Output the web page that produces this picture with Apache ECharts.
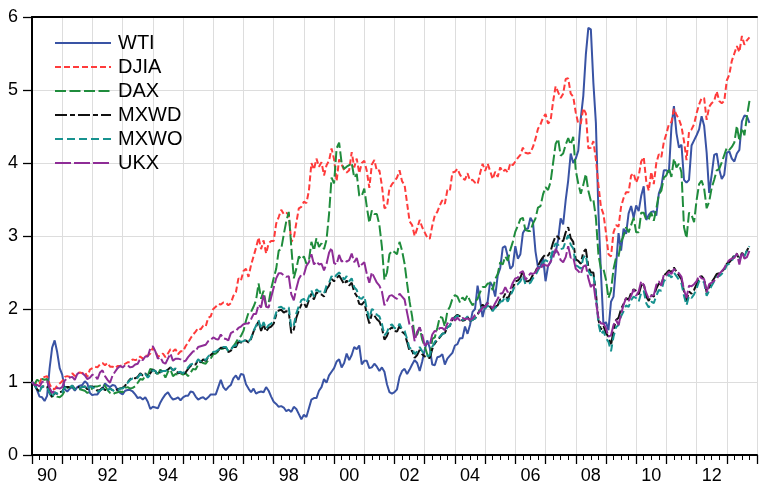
<!DOCTYPE html>
<html>
<head>
<meta charset="utf-8">
<script src="https://cdn.jsdelivr.net/npm/echarts@6/dist/echarts.min.js"></script>
<style>
html,body{margin:0;padding:0;background:#fff;}
#chart{width:760px;height:494px;}
</style>
</head>
<body>
<div id="chart"></div>
<script>
// Monthly observations, Jan 1990 .. Oct 2013 (index normalised to 1 at Jan 1990)
const startYear = 1990;
const seriesNames = ['WTI', 'DJIA', 'DAX', 'MXWD', 'MXWO', 'UKX'];
const yTicks = [0, 1, 2, 3, 4, 5, 6];
const xTickYears = [1990, 1992, 1994, 1996, 1998, 2000, 2002, 2004, 2006, 2008, 2010, 2012];
const xTickLabels = ['90', '92', '94', '96', '98', '00', '02', '04', '06', '08', '10', '12'];

const WTI = [
1.00,0.97,0.89,0.80,0.79,0.74,0.81,1.19,1.47,1.57,1.41,1.19,
1.10,0.90,0.87,0.91,0.93,0.88,0.93,0.95,0.96,1.01,0.98,0.85,
0.82,0.83,0.83,0.88,0.91,0.98,0.95,0.93,0.96,0.95,0.89,0.85,
0.83,0.88,0.89,0.89,0.87,0.83,0.78,0.79,0.76,0.79,0.73,0.63,
0.66,0.65,0.64,0.72,0.78,0.83,0.86,0.80,0.76,0.77,0.79,0.75,
0.79,0.81,0.81,0.87,0.86,0.80,0.76,0.78,0.79,0.76,0.79,0.83,
0.83,0.83,0.93,1.03,0.93,0.89,0.93,0.96,1.05,1.09,1.03,1.11,
1.10,0.97,0.91,0.86,0.91,0.84,0.86,0.87,0.86,0.93,0.88,0.80,
0.73,0.70,0.66,0.67,0.65,0.60,0.62,0.59,0.66,0.63,0.56,0.49,
0.55,0.52,0.64,0.76,0.78,0.78,0.88,0.93,1.04,0.99,1.09,1.14,
1.19,1.28,1.31,1.20,1.26,1.39,1.30,1.37,1.48,1.45,1.50,1.24,
1.29,1.29,1.19,1.20,1.25,1.21,1.15,1.20,1.14,0.97,0.86,0.84,
0.86,0.90,1.07,1.15,1.18,1.11,1.17,1.24,1.30,1.26,1.15,1.28,
1.44,1.57,1.47,1.24,1.23,1.34,1.35,1.38,1.24,1.32,1.36,1.40,
1.50,1.52,1.60,1.60,1.76,1.66,1.78,1.96,2.00,2.32,2.12,1.89,
2.04,2.10,2.37,2.31,2.17,2.46,2.56,2.84,2.86,2.72,2.55,2.59,
2.86,2.69,2.75,3.04,3.10,3.10,3.25,3.19,2.79,2.57,2.58,2.71,
2.38,2.59,2.64,2.79,2.77,2.95,3.24,3.16,3.49,3.76,4.13,4.00,
4.06,4.17,4.61,4.92,5.48,5.85,5.83,5.10,4.55,3.34,2.50,1.79,
1.82,1.71,2.10,2.17,2.59,3.04,2.80,3.10,3.03,3.31,3.41,3.25,
3.42,3.34,3.55,3.68,3.22,3.29,3.33,3.34,3.28,3.58,3.68,3.90,
3.90,3.87,4.49,4.78,4.41,4.21,4.25,3.77,3.73,3.77,4.24,4.31,
4.38,4.46,4.64,4.51,4.14,3.59,3.84,4.11,4.13,3.91,3.78,3.84,
4.14,4.16,4.06,4.02,4.13,4.18,4.57,4.65,4.64,4.55
];

const DJIA = [
1.00,0.97,1.00,0.98,1.07,1.07,1.08,0.97,0.91,0.90,0.95,0.98,
1.01,1.07,1.08,1.07,1.12,1.08,1.12,1.13,1.12,1.14,1.07,1.17,
1.19,1.21,1.20,1.24,1.26,1.23,1.26,1.21,1.21,1.19,1.22,1.22,
1.23,1.25,1.27,1.27,1.31,1.30,1.31,1.35,1.32,1.36,1.36,1.39,
1.47,1.42,1.35,1.36,1.39,1.34,1.39,1.45,1.42,1.45,1.38,1.42,
1.42,1.49,1.54,1.60,1.65,1.69,1.74,1.72,1.77,1.76,1.88,1.90,
2.00,2.03,2.07,2.06,2.09,2.09,2.05,2.08,2.18,2.23,2.42,2.39,
2.52,2.55,2.44,2.60,2.72,2.84,2.98,2.82,2.94,2.76,2.90,2.93,
2.93,3.17,3.26,3.36,3.30,3.32,3.29,2.92,2.97,3.18,3.38,3.40,
3.47,3.45,3.62,4.00,3.91,4.06,3.95,4.01,3.83,3.97,4.03,4.20,
4.05,3.75,4.05,3.98,3.90,3.87,3.90,4.15,3.94,4.06,3.86,4.00,
4.03,3.89,3.66,3.98,4.04,3.89,3.90,3.69,3.38,3.40,3.65,3.71,
3.75,3.80,3.90,3.75,3.70,3.45,3.20,3.15,3.00,3.10,3.22,3.12,
3.05,2.98,2.96,3.14,3.28,3.33,3.42,3.49,3.44,3.63,3.62,3.87,
3.88,3.92,3.84,3.79,3.77,3.86,3.76,3.77,3.73,3.71,3.86,3.99,
3.89,3.99,3.89,3.78,3.88,3.81,3.94,3.88,3.91,3.87,4.00,3.97,
4.02,4.07,4.11,4.21,4.14,4.13,4.14,4.22,4.33,4.47,4.53,4.62,
4.67,4.54,4.58,4.84,5.05,4.97,4.89,4.95,5.15,5.16,4.95,4.91,
4.69,4.54,4.54,4.75,4.68,4.20,4.21,4.30,4.05,3.70,3.40,3.30,
3.05,2.75,2.72,3.05,3.15,3.13,3.40,3.52,3.60,3.60,3.83,3.86,
3.73,3.82,4.02,4.08,3.75,3.62,3.88,3.71,4.00,4.12,4.08,4.29,
4.40,4.53,4.56,4.74,4.66,4.60,4.50,4.30,4.04,4.43,4.46,4.53,
4.68,4.80,4.89,4.89,4.59,4.77,4.82,4.85,4.98,4.85,4.82,4.85,
5.13,5.21,5.40,5.50,5.60,5.52,5.74,5.62,5.68,5.72
];

const DAX = [
1.00,0.97,1.03,1.01,1.04,1.03,1.04,0.88,0.80,0.82,0.80,0.79,
0.82,0.88,0.92,0.93,0.94,0.90,0.91,0.90,0.89,0.88,0.85,0.87,
0.92,0.94,0.94,0.95,0.97,0.95,0.89,0.85,0.83,0.85,0.86,0.87,
0.86,0.92,0.93,0.91,0.92,0.94,0.99,1.04,1.03,1.09,1.09,1.18,
1.17,1.13,1.11,1.17,1.13,1.06,1.14,1.17,1.08,1.11,1.10,1.12,
1.10,1.12,1.08,1.13,1.18,1.17,1.24,1.28,1.26,1.25,1.30,1.32,
1.38,1.39,1.42,1.45,1.46,1.48,1.42,1.45,1.49,1.54,1.60,1.63,
1.70,1.84,1.95,1.96,2.03,2.12,2.35,2.14,2.25,2.05,2.08,2.28,
2.42,2.55,2.80,2.82,3.02,3.20,3.33,2.85,2.42,2.55,2.72,2.68,
2.72,2.62,2.66,2.92,2.80,2.97,2.85,2.90,2.82,2.95,3.30,3.80,
3.72,4.20,4.28,4.00,3.92,3.95,3.97,4.00,3.80,3.85,3.55,3.55,
3.65,3.40,3.18,3.35,3.30,3.30,3.15,2.85,2.40,2.50,2.75,2.80,
2.78,2.75,2.92,2.80,2.62,2.35,2.10,1.90,1.62,1.65,1.75,1.58,
1.49,1.38,1.31,1.59,1.61,1.74,1.89,1.88,1.76,1.97,2.03,2.14,
2.19,2.17,2.09,2.16,2.12,2.19,2.11,2.05,2.10,2.14,2.23,2.30,
2.30,2.35,2.35,2.26,2.41,2.48,2.64,2.61,2.72,2.66,2.81,2.92,
3.06,3.14,3.23,3.25,3.08,3.07,3.07,3.17,3.24,3.39,3.41,3.57,
3.67,3.63,3.74,4.00,4.26,4.33,4.10,4.13,4.25,4.34,4.25,4.36,
3.90,3.72,3.58,3.70,3.85,3.62,3.48,3.50,3.25,2.75,2.55,2.55,
2.40,2.15,2.25,2.55,2.70,2.72,2.92,3.00,3.12,3.05,3.15,3.25,
3.05,3.05,3.32,3.32,3.22,3.23,3.32,3.21,3.37,3.57,3.62,3.80,
3.83,3.93,3.81,4.06,3.94,3.99,3.87,3.12,2.97,3.32,3.29,3.19,
3.49,3.71,3.76,3.65,3.38,3.47,3.66,3.77,3.90,3.92,4.01,4.11,
4.21,4.18,4.22,4.28,4.51,4.30,4.48,4.38,4.64,4.85
];

const MXWD = [
1.00,0.96,0.90,0.87,0.94,0.94,0.94,0.85,0.79,0.85,0.84,0.86,
0.87,0.93,0.93,0.93,0.95,0.91,0.94,0.92,0.93,0.94,0.90,0.94,
0.94,0.92,0.88,0.89,0.92,0.89,0.89,0.91,0.89,0.88,0.90,0.91,
0.92,0.95,1.00,1.04,1.06,1.05,1.07,1.12,1.09,1.12,1.07,1.12,
1.17,1.15,1.10,1.14,1.15,1.15,1.17,1.20,1.16,1.18,1.12,1.13,
1.11,1.13,1.18,1.22,1.24,1.24,1.30,1.27,1.31,1.29,1.34,1.37,
1.40,1.41,1.43,1.47,1.47,1.47,1.41,1.43,1.48,1.48,1.55,1.54,
1.56,1.57,1.54,1.59,1.69,1.76,1.83,1.70,1.79,1.69,1.74,1.76,
1.80,1.92,1.98,1.99,1.95,1.97,1.96,1.67,1.72,1.88,1.98,2.06,
2.08,2.02,2.12,2.21,2.13,2.23,2.20,2.20,2.17,2.27,2.32,2.41,
2.38,2.42,2.46,2.40,2.34,2.39,2.32,2.36,2.23,2.18,2.07,2.06,
2.10,1.93,1.80,1.93,1.91,1.86,1.83,1.74,1.58,1.63,1.72,1.75,
1.70,1.69,1.77,1.69,1.66,1.55,1.42,1.43,1.33,1.37,1.44,1.38,
1.35,1.33,1.33,1.45,1.53,1.57,1.61,1.66,1.67,1.75,1.77,1.86,
1.89,1.92,1.90,1.84,1.85,1.89,1.84,1.85,1.87,1.92,2.00,2.06,
2.02,2.08,2.03,1.98,2.03,2.05,2.13,2.14,2.21,2.13,2.22,2.29,
2.38,2.39,2.43,2.52,2.38,2.38,2.40,2.47,2.51,2.59,2.66,2.71,
2.75,2.73,2.79,2.91,3.00,2.99,2.93,2.93,3.05,3.12,2.97,2.92,
2.68,2.66,2.62,2.78,2.82,2.58,2.50,2.50,2.22,1.85,1.72,1.77,
1.67,1.62,1.50,1.71,1.85,1.88,2.00,2.07,2.15,2.13,2.22,2.27,
2.25,2.20,2.32,2.35,2.17,2.11,2.19,2.17,2.28,2.35,2.33,2.46,
2.49,2.53,2.50,2.57,2.51,2.46,2.41,2.24,2.11,2.24,2.21,2.26,
2.34,2.43,2.45,2.41,2.23,2.30,2.37,2.42,2.48,2.49,2.51,2.55,
2.62,2.64,2.68,2.74,2.76,2.67,2.77,2.73,2.80,2.86
];

const MXWO = [
1.00,0.96,0.90,0.87,0.94,0.94,0.93,0.85,0.79,0.86,0.84,0.86,
0.86,0.93,0.92,0.93,0.95,0.90,0.93,0.92,0.93,0.94,0.89,0.94,
0.93,0.91,0.87,0.88,0.91,0.88,0.89,0.91,0.89,0.87,0.89,0.91,
0.91,0.94,0.99,1.03,1.05,1.04,1.06,1.11,1.08,1.11,1.06,1.10,
1.16,1.15,1.10,1.14,1.15,1.15,1.17,1.20,1.16,1.19,1.13,1.14,
1.12,1.15,1.20,1.24,1.25,1.25,1.31,1.28,1.32,1.30,1.35,1.38,
1.41,1.42,1.44,1.48,1.48,1.48,1.42,1.44,1.49,1.50,1.57,1.55,
1.56,1.58,1.55,1.60,1.70,1.77,1.85,1.73,1.82,1.73,1.78,1.80,
1.84,1.95,2.02,2.03,2.00,2.03,2.02,1.74,1.78,1.94,2.04,2.12,
2.14,2.08,2.17,2.25,2.17,2.27,2.24,2.24,2.21,2.32,2.36,2.45,
2.42,2.47,2.50,2.46,2.40,2.45,2.38,2.42,2.30,2.26,2.15,2.14,
2.18,2.00,1.87,2.00,1.98,1.92,1.90,1.80,1.64,1.68,1.77,1.79,
1.74,1.73,1.80,1.72,1.70,1.59,1.46,1.47,1.38,1.42,1.48,1.42,
1.38,1.36,1.36,1.48,1.55,1.58,1.62,1.66,1.67,1.75,1.77,1.86,
1.88,1.91,1.89,1.85,1.86,1.90,1.84,1.85,1.87,1.92,1.99,2.05,
2.00,2.05,2.01,1.97,2.02,2.03,2.10,2.11,2.17,2.10,2.18,2.25,
2.33,2.34,2.38,2.46,2.34,2.34,2.36,2.42,2.46,2.53,2.59,2.64,
2.67,2.65,2.70,2.82,2.90,2.88,2.82,2.83,2.93,3.01,2.88,2.83,
2.60,2.58,2.55,2.70,2.74,2.52,2.46,2.48,2.20,1.80,1.65,1.70,
1.60,1.55,1.42,1.62,1.75,1.78,1.90,1.97,2.05,2.03,2.12,2.17,
2.15,2.10,2.22,2.25,2.08,2.02,2.10,2.08,2.18,2.26,2.25,2.38,
2.42,2.47,2.43,2.50,2.45,2.40,2.35,2.18,2.05,2.18,2.15,2.20,
2.28,2.38,2.40,2.36,2.18,2.25,2.32,2.38,2.44,2.45,2.48,2.52,
2.60,2.62,2.66,2.72,2.74,2.66,2.76,2.72,2.80,2.86
];

const UKX = [
1.00,0.96,0.96,0.94,1.00,1.01,1.01,0.92,0.85,0.88,0.92,0.91,
0.93,1.02,1.05,1.06,1.07,1.03,1.11,1.13,1.12,1.09,1.04,1.06,
1.10,1.09,1.04,1.13,1.16,1.08,1.03,0.99,1.09,1.14,1.19,1.22,
1.20,1.23,1.23,1.20,1.21,1.24,1.25,1.32,1.30,1.35,1.35,1.46,
1.49,1.42,1.32,1.34,1.27,1.25,1.32,1.39,1.29,1.32,1.32,1.31,
1.28,1.29,1.34,1.38,1.42,1.42,1.48,1.49,1.50,1.51,1.56,1.58,
1.61,1.59,1.58,1.65,1.60,1.59,1.57,1.67,1.69,1.70,1.74,1.76,
1.79,1.80,1.80,1.86,1.93,1.93,2.06,2.02,2.20,2.03,2.02,2.16,
2.29,2.42,2.49,2.49,2.46,2.44,2.45,2.20,2.12,2.28,2.41,2.47,
2.47,2.59,2.64,2.75,2.61,2.65,2.61,2.62,2.53,2.62,2.77,2.84,
2.63,2.61,2.74,2.65,2.67,2.65,2.67,2.76,2.64,2.70,2.57,2.61,
2.64,2.48,2.36,2.50,2.43,2.36,2.32,2.24,2.05,2.11,2.18,2.19,
2.16,2.14,2.21,2.17,2.13,1.95,1.78,1.77,1.56,1.69,1.75,1.65,
1.50,1.53,1.51,1.65,1.70,1.69,1.74,1.74,1.71,1.80,1.82,1.88,
1.84,1.88,1.84,1.88,1.86,1.87,1.85,1.87,1.92,1.94,1.97,2.02,
2.03,2.08,2.05,2.01,2.08,2.14,2.21,2.22,2.30,2.23,2.27,2.36,
2.42,2.43,2.50,2.52,2.40,2.44,2.49,2.48,2.50,2.57,2.54,2.61,
2.60,2.59,2.65,2.70,2.82,2.77,2.67,2.64,2.71,2.86,2.70,2.71,
2.55,2.52,2.48,2.58,2.60,2.42,2.30,2.36,2.10,1.88,1.80,1.80,
1.74,1.62,1.64,1.78,1.85,1.78,1.93,2.06,2.15,2.11,2.18,2.27,
2.18,2.24,2.38,2.33,2.22,2.14,2.18,2.19,2.33,2.38,2.32,2.47,
2.46,2.51,2.48,2.55,2.51,2.49,2.44,2.26,2.15,2.32,2.31,2.34,
2.38,2.46,2.42,2.41,2.23,2.34,2.36,2.39,2.41,2.48,2.52,2.56,
2.63,2.67,2.69,2.70,2.76,2.61,2.78,2.69,2.71,2.80
];

const seriesValues = [WTI, DJIA, DAX, MXWD, MXWO, UKX];
const colors = ['#3953a4', '#ff3b3b', '#1f8c3c', '#111111', '#17928f', '#8e2c96'];
const dashes = ['solid', [6, 3], [11, 3.5], [12, 3, 5, 3], [8, 4], [16, 3]];

const FONT = '"Liberation Sans", Arial, sans-serif';
const X_MIN = 1990, X_MAX = 2014;

function toPoints(arr) {
  return arr.map((v, i) => [startYear + i / 12, v]);
}

const chart = echarts.init(document.getElementById('chart'), null, { renderer: 'canvas' });

const option = {
  animation: false,
  backgroundColor: '#ffffff',
  grid: { left: 32, top: 17, right: -8, bottom: 39, containLabel: false },
  legend: {
    orient: 'vertical',
    left: 49,
    top: 28,
    itemWidth: 56,
    itemHeight: 14,
    itemGap: 4,
    data: seriesNames,
    itemStyle: { color: 'rgba(0,0,0,0)', borderColor: 'rgba(0,0,0,0)', borderWidth: 0, opacity: 0 },
    textStyle: { fontSize: 20, color: '#000', fontFamily: FONT, padding: [0, 0, 0, 2] }
  },
  xAxis: [
    {
      type: 'value', min: X_MIN, max: X_MAX, interval: 1, position: 'bottom',
      axisLine: { show: true, onZero: false, lineStyle: { color: '#000', width: 2 } },
      axisTick: { show: true, length: 9, lineStyle: { color: '#000', width: 1.3 } },
      minorTick: { show: true, splitNumber: 4, length: 5, lineStyle: { color: '#000', width: 1 } },
      axisLabel: { show: false },
      splitLine: { show: true, lineStyle: { color: '#dddddd', width: 1 } }
    },
    {
      type: 'value', min: X_MIN - 0.5, max: X_MAX - 0.5, interval: 0.5, position: 'bottom',
      axisLine: { show: false, onZero: false }, axisTick: { show: false }, splitLine: { show: false },
      axisLabel: {
        show: true, fontSize: 18, color: '#000', fontFamily: FONT, margin: 12,
        showMinLabel: true, showMaxLabel: true,
        formatter: function (v) {
          const idx = xTickYears.findIndex(y => Math.abs(y - v) < 1e-6);
          return idx >= 0 ? xTickLabels[idx] : '';
        }
      }
    },
    {
      type: 'value', min: X_MIN, max: X_MAX, position: 'top',
      axisLine: { show: true, onZero: false, lineStyle: { color: '#000', width: 2 } },
      axisTick: { show: false }, axisLabel: { show: false }, splitLine: { show: false }
    }
  ],
  yAxis: {
    type: 'value', min: yTicks[0], max: yTicks[yTicks.length - 1], interval: 1,
    axisLine: { show: true, onZero: false, lineStyle: { color: '#000', width: 2 } },
    axisTick: { show: true, length: 9, lineStyle: { color: '#000', width: 1.3 } },
    axisLabel: { fontSize: 18, color: '#000', fontFamily: FONT, margin: 14 },
    splitLine: { show: true, lineStyle: { color: '#dddddd', width: 1 } }
  },
  series: seriesNames.map((name, k) => ({
    name: name,
    type: 'line',
    xAxisIndex: 0,
    symbol: 'none',
    showSymbol: false,
    smooth: false,
    clip: true,
    color: colors[k],
    lineStyle: { color: colors[k], width: 2, type: dashes[k] },
    itemStyle: { color: colors[k] },
    data: toPoints(seriesValues[k])
  }))
};

chart.setOption(option);
</script>
</body>
</html>
